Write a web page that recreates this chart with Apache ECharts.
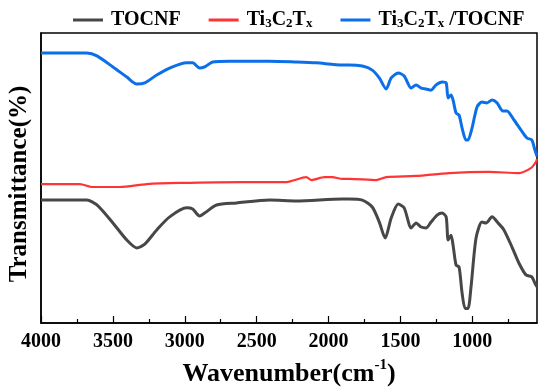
<!DOCTYPE html>
<html>
<head>
<meta charset="utf-8">
<script src="https://cdn.jsdelivr.net/npm/echarts@6/dist/echarts.min.js"></script>
<style>html,body{margin:0;padding:0;background:#fff}#c{width:550px;height:391px}</style>
</head>
<body>
<div id="c"></div>
<script>
// Wavenumber (cm-1) / transmittance (a.u.) pairs
const tocnf = [
  [4000,42.4],[3681,42.4],[3611,40.7],[3500,34.5],[3403,28.6],[3334,25.9],[3278,27.2],[3195,32.1],
  [3105,36.6],[2987,39.7],[2945,39.3],[2897,36.9],[2862,37.9],[2779,40.7],[2640,41.4],[2411,42.4],
  [2223,42.1],[1904,42.8],[1856,42.8],[1765,42.4],[1696,40.0],[1647,34.8],[1606,29.3],[1564,36.2],
  [1515,41.0],[1474,39.7],[1425,32.8],[1391,34.5],[1356,33.1],[1321,32.8],[1287,34.8],[1245,37.2],
  [1210,37.9],[1182,36.6],[1168,28.6],[1148,30.3],[1134,26.9],[1113,20.0],[1092,19.3],[1071,10.3],
  [1050,5.0],[1030,5.0],[1009,12.4],[974,29.3],[933,34.8],[905,34.5],[863,36.6],[821,34.5],
  [780,32.1],[724,26.2],[676,20.7],[627,16.6],[586,15.9],[565,13.8],[550,12.5]
];
const ti3c2tx = [
  [4000,47.9],[3729,47.9],[3646,46.9],[3452,46.9],[3264,47.9],[3035,48.3],[2598,48.6],[2293,48.6],
  [2154,50.3],[2119,49.3],[2029,50.3],[1974,50.3],[1904,49.7],[1856,49.7],[1668,49.3],[1599,50.3],
  [1391,50.7],[1161,51.7],[884,52.1],[676,51.7],[593,53.4],[558,55.5],[550,56.5]
];
const composite = [
  [4000,93.1],[3681,93.1],[3611,92.1],[3500,88.3],[3403,84.8],[3334,82.4],[3278,82.8],[3195,85.5],
  [3105,87.9],[2987,89.7],[2945,89.7],[2897,87.9],[2862,88.3],[2806,90.0],[2688,90.3],[2411,90.3],
  [2223,90.0],[2085,89.7],[1904,89.0],[1856,89.0],[1765,88.6],[1696,87.2],[1647,84.5],[1599,80.7],
  [1564,84.5],[1515,86.2],[1474,85.2],[1425,81.0],[1391,82.1],[1356,81.0],[1321,80.7],[1287,80.3],
  [1252,82.1],[1210,83.1],[1182,82.8],[1168,77.6],[1148,78.6],[1134,76.9],[1113,72.4],[1092,71.7],
  [1071,67.2],[1044,63.1],[1030,63.1],[1002,67.2],[967,74.5],[933,76.2],[898,75.9],[863,76.9],
  [828,75.9],[787,73.1],[759,73.1],[710,70.0],[662,66.6],[620,63.8],[586,63.1],[565,59.7],[550,57.5]
];
const seriesNames = ['TOCNF','Ti3C2Tx','Ti3C2Tx /TOCNF'];
const majorTicks = [4000,3500,3000,2500,2000,1500,1000];
const minorTicks = [3750,3250,2750,2250,1750,1250,750];

const FF = 'Liberation Serif';
const legendRich = {
  '0': '{b|TOCNF}',
  '1': '{b|Ti}{s|3}{b|C}{s|2}{b|T}{s|x}',
  '2': '{b|Ti}{s|3}{b|C}{s|2}{b|T}{s|x}{b| /TOCNF}'
};
const chart = echarts.init(document.getElementById('c'), null, {renderer:'canvas'});
const xBase = {type:'value', min:550, max:4000, inverse:true, gridIndex:0};
chart.setOption({
  animation:false,
  legend:{
    left:68, top:5, itemWidth:30, itemHeight:3, itemGap:28, icon:'rect',
    data:seriesNames,
    formatter:function(n){return legendRich[String(seriesNames.indexOf(n))];},
    textStyle:{
      fontFamily:FF, fontWeight:'bold', fontSize:20, color:'#000', padding:[0,0,0,3],
      rich:{
        b:{fontFamily:FF, fontWeight:'bold', fontSize:20, color:'#000', lineHeight:20},
        s:{fontFamily:FF, fontWeight:'bold', fontSize:13, color:'#000', lineHeight:1, verticalAlign:'bottom'}
      }
    }
  },
  grid:{left:41, right:13, top:33, bottom:68, show:true, borderColor:'#000', borderWidth:1.5,
        backgroundColor:'transparent', containLabel:false, outerBoundsMode:'none'},
  xAxis:[
    Object.assign({}, xBase, {
      name:'{n|Wavenumber(cm}{p|-1}{n|)}', nameLocation:'middle', nameGap:35,
      nameTextStyle:{rich:{
        n:{fontFamily:FF, fontWeight:'bold', fontSize:26, color:'#000', lineHeight:26},
        p:{fontFamily:FF, fontWeight:'bold', fontSize:15, color:'#000', lineHeight:33, verticalAlign:'top'}
      }},
      axisLine:{show:true, lineStyle:{color:'#000', width:1.5}},
      axisTick:{show:true, inside:true, length:7, customValues:majorTicks, lineStyle:{color:'#000', width:1.2}},
      axisLabel:{show:true, customValues:majorTicks, margin:9, formatter:function(v){return String(v);},
                 fontFamily:FF, fontWeight:'bold', fontSize:20, color:'#000'},
      splitLine:{show:false}
    }),
    Object.assign({}, xBase, {
      position:'bottom',
      axisLine:{show:false},
      axisTick:{show:true, inside:true, length:4, customValues:minorTicks, lineStyle:{color:'#000', width:1.2}},
      axisLabel:{show:false},
      splitLine:{show:false}
    })
  ],
  yAxis:{
    type:'value', min:0, max:100,
    name:'Transmittance(%)', nameLocation:'middle', nameGap:9,
    nameTextStyle:{fontFamily:FF, fontWeight:'bold', fontSize:25, color:'#000', padding:[0,12,0,0]},
    axisLine:{show:true, lineStyle:{color:'#000', width:1.5}},
    axisTick:{show:false}, axisLabel:{show:false}, splitLine:{show:false}
  },
  series:[
    {name:seriesNames[0], type:'line', data:tocnf, symbol:'none', smooth:0.25, xAxisIndex:0,
     lineStyle:{color:'#474747', width:3}, itemStyle:{color:'#474747'}},
    {name:seriesNames[1], type:'line', data:ti3c2tx, symbol:'none', smooth:0.25, xAxisIndex:0,
     lineStyle:{color:'#ff3434', width:2.2}, itemStyle:{color:'#ff3434'}},
    {name:seriesNames[2], type:'line', data:composite, symbol:'none', smooth:0.25, xAxisIndex:0,
     lineStyle:{color:'#0b6fe9', width:3}, itemStyle:{color:'#0b6fe9'}}
  ]
});
</script>
</body>
</html>
